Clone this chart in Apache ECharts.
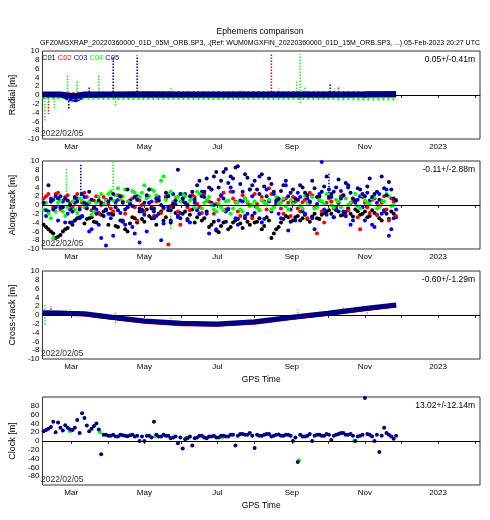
<!DOCTYPE html>
<html>
<head>
<meta charset="utf-8">
<script src="https://cdn.jsdelivr.net/npm/echarts@6/dist/echarts.min.js"></script>
<style>
html, body { margin: 0; padding: 0; background: #fff; }
#chart { width: 490px; height: 520px; }
</style>
</head>
<body>
<div id="chart"></div>
<script>
// satellites and their colours
const satNames = ['C01', 'C02', 'C03', 'C04', 'C05'];
const satColors = ['#000000', '#ff0000', '#0000ff', '#00ff00', '#000080'];

const panelNames = ['Radial [m]', 'Along-track [m]', 'Cross-track [m]', 'Clock [m]'];
const panelStats = ['0.05+/-0.41m', '-0.11+/-2.88m', '-0.60+/-1.29m', '13.02+/-12.14m'];

// sample days (every 4 days) used for along-track and clock
const dates = [
  '2022-02-06','2022-02-10','2022-02-14','2022-02-18','2022-02-22','2022-02-26',
  '2022-03-02','2022-03-06','2022-03-10','2022-03-14','2022-03-18','2022-03-22','2022-03-26','2022-03-30',
  '2022-04-03','2022-04-07','2022-04-11','2022-04-15','2022-04-19','2022-04-23','2022-04-27',
  '2022-05-01','2022-05-05','2022-05-09','2022-05-13','2022-05-17','2022-05-21','2022-05-25','2022-05-29',
  '2022-06-02','2022-06-06','2022-06-10','2022-06-14','2022-06-18','2022-06-22','2022-06-26','2022-06-30',
  '2022-07-04','2022-07-08','2022-07-12','2022-07-16','2022-07-20','2022-07-24','2022-07-28',
  '2022-08-01','2022-08-05','2022-08-09','2022-08-13','2022-08-17','2022-08-21','2022-08-25','2022-08-29',
  '2022-09-02','2022-09-06','2022-09-10','2022-09-14','2022-09-18','2022-09-22','2022-09-26','2022-09-30',
  '2022-10-04','2022-10-08','2022-10-12','2022-10-16','2022-10-20','2022-10-24','2022-10-28',
  '2022-11-01','2022-11-05','2022-11-09','2022-11-13','2022-11-17','2022-11-21','2022-11-25'
];
// second sample set, in between
const dates2 = [
  '2022-02-08','2022-02-12','2022-02-16','2022-02-20','2022-02-24','2022-02-28',
  '2022-03-04','2022-03-08','2022-03-12','2022-03-16','2022-03-20','2022-03-24','2022-03-28',
  '2022-04-01','2022-04-05','2022-04-09','2022-04-13','2022-04-17','2022-04-21','2022-04-25','2022-04-29',
  '2022-05-03','2022-05-07','2022-05-11','2022-05-15','2022-05-19','2022-05-23','2022-05-27','2022-05-31',
  '2022-06-04','2022-06-08','2022-06-12','2022-06-16','2022-06-20','2022-06-24','2022-06-28',
  '2022-07-02','2022-07-06','2022-07-10','2022-07-14','2022-07-18','2022-07-22','2022-07-26','2022-07-30',
  '2022-08-03','2022-08-07','2022-08-11','2022-08-15','2022-08-19','2022-08-23','2022-08-27','2022-08-31',
  '2022-09-04','2022-09-08','2022-09-12','2022-09-16','2022-09-20','2022-09-24','2022-09-28',
  '2022-10-02','2022-10-06','2022-10-10','2022-10-14','2022-10-18','2022-10-22','2022-10-26','2022-10-30',
  '2022-11-03','2022-11-07','2022-11-11','2022-11-15','2022-11-19','2022-11-23','2022-11-27'
];

// along-track [m]
const alongC01 = [-4.5,-5.5,-6.5,-7.2,-6.0,-5.2, -4.5,-3.0,-2.6,-3.2,-2.8,-4.0,-2.2,-1.0, -2.0,-4.8,-3.5,-5.5,-4.2,-3.0,-1.5,
  -3.8,-2.5,-0.8,-2.0,-3.5,-1.2,-0.5,-2.5, -2.0,-3.2,-1.0,-2.8,-3.5,-1.5,-4.5,-5.8, -4.8,-3.8,-5.0,-3.5,-4.2,-3.0,-4.5,
  -4.0,-3.0,-4.8,-3.5,-6.5,-5.0,-3.2,-2.8, -3.5,-2.5,-3.0,-3.2,-2.6,-3.0,-2.2,-1.5, -2.0,-1.2,-2.4,-1.6,-2.0,-1.0,-2.2,
  -1.5,-2.5,-1.8,-3.0,-1.2,-3.2,-2.0];
const alongC01b = [-5.0,-6.0,-7.5,-6.8,-5.5,-4.0, -3.5,-2.8,-4.2,-3.0,-3.8,-1.8,-2.5, -4.5,-2.2,-5.0,-3.8,-6.0,-2.8,-4.0,-3.2,
  -1.0,-3.0,-4.5,-1.5,-2.8,-4.0,-1.8,-3.0, -1.5,-2.2,-4.0,-2.0,-3.0,-5.0,-3.8, -6.2,-4.0,-5.5,-4.0,-3.2,-5.2,-3.8,-2.5,
  -3.8,-5.5,-2.8,-7.5,-5.5,-4.0,-2.5,-3.8, -2.8,-3.5,-2.2,-3.8,-2.0,-3.2,-1.8, -1.2,-2.8,-1.5,-2.2,-0.8,-2.6,-1.4,-2.0,
  -2.8,-1.2,-2.2,-3.5,-2.0,-1.5,-2.8];
const alongC02 = [1.5,2.5,-0.5,2.8,1.0,2.2, -0.5,2.5,0.5,1.8,-1.2,2.0,0.0,1.2, -0.8,0.5,1.5,-2.0,0.8,-0.5,1.0,
  -1.5,0.5,-2.5,1.2,-0.8,-9.0,0.6,-1.5, 1.5,-0.5,2.2,0.3,-1.8,1.0,3.5,0.2, 2.0,-1.0,3.0,0.8,-2.5,1.5,0.0,
  2.5,-1.2,0.8,3.8,-0.5,1.2,-2.0,0.5, 1.8,-0.8,0.6,-3.0,2.2,-6.5,-1.5,0.5, 0.8,-0.5,2.0,-2.5,0.3,1.0,-5.5,
  0.5,-1.8,1.5,-0.3,2.0,-3.5,0.8];
const alongC02b = [2.0,0.8,2.5,-1.0,1.8,0.5, 1.5,-0.5,2.8,0.5,1.0,-2.0,1.8, 0.2,-1.5,2.2,0.8,-0.5,1.5,-3.5,0.0,
  1.8,-0.5,0.8,-1.8,2.0,-0.2,1.0,-4.5, 0.5,-1.2,1.8,-0.5,2.5,0.8,-2.0, 1.2,2.8,-0.8,1.5,-1.5,2.2,0.5,-3.0,
  0.2,1.8,-1.0,2.5,0.5,-0.8,1.5,-2.5, 0.8,-1.5,1.2,2.8,-0.5,1.0,-4.0, 1.5,-0.8,0.5,2.2,-1.2,0.8,-2.8,1.8,
  -0.5,1.2,-2.2,0.5,-1.0,1.5,-2.5];
const alongC03 = [0.5,-1.5,1.2,-3.5,0.8,-2.0, -4.0,1.5,-2.5,0.2,-5.5,-1.0,-7.5,-9.2, -3.0,0.8,-1.8,-4.5,1.0,-6.5,-8.5,
  -2.2,0.5,-3.0,1.8,-4.2,-0.5,2.5,-2.8, 0.8,-3.5,1.5,-1.2,3.0,-2.0,0.5,-5.5, 2.2,-1.5,4.0,-3.0,1.0,-2.5,3.5,
  -1.8,6.5,-3.2,0.8,2.5,-2.0,1.2,-5.8, 0.5,2.8,-1.5,1.5,-3.0,0.2,9.8,-2.2, 1.8,-1.0,3.2,-2.5,-4.5,0.5,2.0,
  -3.5,1.0,-5.0,2.5,-1.5,-7.0,-3.0];
const alongC03b = [-2.5,1.5,-0.5,2.0,-4.0,-1.0, 0.5,-3.0,1.8,-6.0,-0.8,-4.5,0.2, -2.0,-7.0,1.2,-3.5,-0.5,-5.0,2.0,-1.5,
  -6.0,0.8,-2.5,-8.0,1.5,-3.5,0.2,-1.8, 2.5,-4.0,0.5,-2.0,1.8,-6.5,0.0, -3.5,1.5,-1.0,3.0,-4.5,0.8,-2.0,2.0,
  -0.5,-4.0,3.5,-1.5,0.2,-3.0,4.5,-1.0, -3.5,1.8,-2.0,0.5,-5.5,2.5,-1.0, 3.5,-2.8,0.5,-1.5,4.0,-3.5,1.2,-0.5,
  2.8,-4.5,0.5,-2.0,3.5,-5.5,-1.0];
const alongC04 = [-1.0,-2.0,-7.5,0.5,-1.5,-0.5, 0.8,-1.8,1.0,-0.5,-2.2,0.5,2.5,1.0, 3.0,2.2,1.5,3.5,0.5,2.8,1.8,
  4.5,2.0,3.2,1.0,6.5,2.5,0.5,1.8, 2.5,0.2,1.5,3.0,-0.8,1.2,0.0,-1.5, -0.5,0.8,-2.0,0.5,-1.0,1.5,-0.3,
  0.8,-1.2,0.5,1.2,-0.5,0.3,1.5,-1.0, 0.2,1.0,-0.8,0.5,1.8,-0.5,0.8,2.5, 0.0,1.2,-0.5,1.5,0.5,2.5,-0.8,
  1.0,0.2,1.8,-0.5,0.8,2.0,0.0];
const alongC04b = [0.5,-3.0,-1.5,1.0,-2.5,0.0, -1.0,1.5,-0.5,0.8,-1.5,1.8,0.2, 2.5,1.0,3.8,2.0,0.8,3.2,1.5,2.8,
  1.5,3.5,2.2,5.5,1.2,3.0,1.8,0.8, 2.0,1.0,-0.5,2.5,0.5,1.8,-1.0, 0.3,-1.2,1.0,-0.8,0.5,-1.5,0.8,0.0,
  -0.5,1.0,0.2,-1.0,1.8,0.5,-0.3,1.0, 1.5,-0.2,2.0,0.8,-0.8,1.2,0.3, 1.8,-0.5,0.8,2.0,0.0,1.5,-0.3,2.2,
  0.5,1.5,-0.8,1.0,2.5,-0.2,1.2];
const alongC05 = [0.5,4.5,-1.0,1.5,-0.5,1.0, -1.5,0.8,2.5,-0.8,1.2,-2.0,0.5,-1.2, 1.5,-0.5,2.0,-1.0,0.2,1.8,-0.8,
  0.5,3.5,-1.5,1.0,-0.5,2.0,0.3,8.0, 1.5,0.0,3.0,4.5,2.0,6.0,3.5,7.5, 5.5,8.2,6.5,8.5,4.8,7.0,3.5,
  5.5,2.5,4.2,6.0,3.0,1.5,4.5,2.0, 3.5,1.2,4.0,2.2,5.5,1.8,3.0,6.5, 2.5,4.0,1.5,5.0,2.8,1.0,3.5,
  2.0,6.0,2.5,1.2,3.8,5.2,1.5];
const alongC05b = [-1.2,0.8,2.0,-0.5,1.5,0.0, 1.8,-1.0,0.5,3.0,-0.5,1.0,-1.5, 0.8,2.5,-1.2,0.5,3.5,-0.2,1.2,-1.0,
  2.2,-0.8,1.5,0.0,2.8,-1.2,1.0,2.5, 0.5,2.0,1.2,5.5,3.0,4.0,6.5, 4.0,7.5,5.0,6.0,8.8,3.0,6.2,4.5,
  3.5,7.0,2.0,4.8,1.0,3.2,5.5,2.8, 1.5,4.5,2.8,0.8,3.8,2.0,4.2, 1.8,3.0,5.8,2.2,4.5,1.5,3.8,2.5,
  4.2,1.8,3.0,6.5,2.2,3.5,1.0];

// clock [m]
const clockC05 = [22,28,44,42,24,30, 25,48,63,35,28,40,-30,14, 12,10,14,12,13,10,0,
  0,12,44,10,14,12,8,-5, -17,6,-10,8,12,6,10,8, 12,10,14,-10,16,14,18,
  -16,12,14,16,12,15,12,14, 0,-48,10,12,0,14,12,16, 2,14,18,14,16,0,12,
  98,14,0,-25,30,14,5];
const clockC05b = [25,32,20,30,36,26, 30,18,52,22,34,26,14, 12,14,10,13,11,14,12,10,
  12,8,14,10,12,6,10,8, 4,10,6,12,8,10,12, 8,12,10,14,12,16,14,12,
  14,12,16,10,14,12,14,12, 8,14,10,16,12,14,12, 14,12,16,18,14,12,10,14,
  16,10,14,12,18,10,12];
const clockC04Dates = ['2022-02-28','2022-03-25','2022-05-10','2022-06-05','2022-07-05','2022-09-07','2022-10-23'];
const clockC04 = [22,20,10,8,8,-44,0];

// dense bands (radial, cross-track) sampled at these days
const bandDates = ['2022-02-05','2022-02-20','2022-02-26','2022-03-05','2022-03-12','2022-04-01','2022-05-01',
  '2022-06-01','2022-07-01','2022-08-01','2022-09-01','2022-10-01','2022-11-01','2022-11-27'];
const radialBandC01 = [0.0,0.0,-0.3,-0.5,-0.2,-0.1,-0.1,-0.1,-0.1,-0.1,-0.1,-0.1,-0.1,-0.1];
const radialBandC02 = [0.4,0.4,0.4,0.4,0.5,0.5,0.6,0.6,0.6,0.6,0.6,0.6,0.6,0.6];
const radialBandC03 = [0.0,0.0,-0.8,-1.2,-0.2,-0.1,-0.1,-0.1,-0.1,-0.1,-0.1,-0.1,-0.1,-0.1];
const radialBandC04 = [-0.6,-0.6,-0.7,-0.8,-0.7,-0.8,-0.8,-0.8,-0.8,-0.8,-0.8,-0.8,-0.9,-0.9];
const radialBandC05 = [0.1,0.1,-0.1,-0.2,0.1,0.1,0.15,0.1,0.1,0.1,0.1,0.1,0.15,0.2];

const crossBandC01 = [0.5,0.45,0.4,0.35,0.3,-0.4,-1.35,-1.9,-2.05,-1.55,-0.5,0.4,1.5,2.3];
const crossBandC02 = [0.2,0.15,0.1,0.05,0.0,-0.7,-1.65,-2.2,-2.35,-1.85,-0.8,0.1,1.2,2.0];
const crossBandC03 = [0.3,0.25,0.2,0.15,0.1,-0.6,-1.55,-2.1,-2.25,-1.75,-0.7,0.2,1.3,2.1];
const crossBandC04 = [0.7,0.6,0.55,0.5,0.45,-0.25,-1.2,-1.75,-1.9,-1.4,-0.35,0.55,1.65,2.45];
const crossBandC05 = [0.5,0.45,0.4,0.35,0.3,-0.4,-1.35,-1.9,-2.05,-1.55,-0.5,0.4,1.5,2.3];

// short bursts: [day, from, to, satellite index]
const radialSpikes = [
  ['2022-02-07',0,-5.8,3], ['2022-02-10',0,-4.3,1], ['2022-02-15',0,-3.0,3], ['2022-02-26',0,4.8,3],
  ['2022-02-27',0,-3.2,0], ['2022-03-06',0,3.2,3], ['2022-03-16',0,2.0,2], ['2022-03-24',0,4.8,3],
  ['2022-04-05',0,8.7,4], ['2022-04-07',0,-2.7,3], ['2022-04-25',0,9.0,4], ['2022-05-23',0,1.6,3],
  ['2022-07-20',0,1.2,3], ['2022-08-15',0,9.3,1], ['2022-08-21',0,1.5,3], ['2022-09-05',0,3.0,3],
  ['2022-09-08',-1.8,9.3,3], ['2022-09-12',0,2.0,3], ['2022-10-03',0,2.5,4], ['2022-10-07',0,1.5,3],
  ['2022-10-10',0,2.0,1]
];
const alongSpikes = [
  ['2022-02-25',3.0,8.5,3], ['2022-03-09',2.0,9.5,4], ['2022-04-05',3.4,9.8,3],
  ['2022-05-23',-1.0,-5.5,3], ['2022-10-02',2.0,7.5,4]
];
const crossSpikes = [
  ['2022-02-07',-2.2,2.2,3], ['2022-02-12',0.5,2.0,1], ['2022-02-28',0.4,1.2,0], ['2022-04-07',0.5,-2.0,3],
  ['2022-05-23',-1.6,-0.6,3], ['2022-09-06',-0.3,1.3,3], ['2022-10-14',0.7,1.7,3], ['2022-11-03',1.3,-0.1,3]
];

const FONT = 'Liberation Sans, Arial, sans-serif';
const DAY = 86400000;
const monthNames = ['Jan','Feb','Mar','Apr','May','Jun','Jul','Aug','Sep','Oct','Nov','Dec'];
const gridTops = [51, 161, 271, 397];

function t(d) { return Date.parse(d + 'T00:00:00Z'); }

const grids = [], xAxes = [], yAxes = [], series = [];

gridTops.forEach(function (top, i) {
  grids.push({ left: 40, top: top, width: 440, height: 88, show: true, borderColor: '#333', borderWidth: 1 });
  xAxes.push({
    type: 'time', gridIndex: i,
    min: t('2022-02-05'), max: t('2023-02-05'),
    minInterval: 28 * DAY, maxInterval: 31 * DAY,
    axisLine: { show: true, lineStyle: { color: '#333' } },
    axisTick: { show: true, length: 3, lineStyle: { color: '#333' } },
    splitLine: { show: false },
    axisLabel: {
      fontSize: 8, color: '#000', fontFamily: FONT, margin: 4, hideOverlap: false,
      showMinLabel: false, showMaxLabel: false,
      formatter: function (v) {
        const d = new Date(v);
        if (d.getUTCDate() !== 1) return '';
        const m = d.getUTCMonth();
        if (m === 0) return String(d.getUTCFullYear());
        return m % 2 === 0 ? monthNames[m] : '';
      }
    },
    name: i >= 2 ? 'GPS Time' : '', nameLocation: 'middle', nameGap: 16,
    nameTextStyle: { fontSize: 8.5, color: '#000', fontFamily: FONT }
  });
  const clock = i === 3;
  yAxes.push({
    type: 'value', gridIndex: i,
    min: clock ? -100 : -10, max: clock ? 100 : 10, interval: clock ? 20 : 2,
    axisLine: { show: false }, axisTick: { show: false }, splitLine: { show: false },
    axisLabel: { fontSize: 8, color: '#000', fontFamily: FONT, margin: 3,
      showMinLabel: !clock, showMaxLabel: !clock },
    name: panelNames[i], nameLocation: 'middle', nameGap: 22,
    nameTextStyle: { fontSize: 9, color: '#000', fontFamily: FONT }
  });
});

const zeroLine = {
  silent: true, symbol: 'none', label: { show: false },
  lineStyle: { color: '#000', width: 1, type: 'solid' },
  data: [{ yAxis: 0 }]
};

function bandSeries(g, vals, sat, width, dash) {
  return {
    type: 'line', xAxisIndex: g, yAxisIndex: g, showSymbol: false, silent: true,
    data: bandDates.map(function (d, k) { return [t(d), vals[k]]; }),
    lineStyle: { color: satColors[sat], width: width, type: dash ? [2, 3] : 'solid' }
  };
}

function pairs(ds, vals) {
  return ds.map(function (d, k) { return [t(d), vals[k]]; });
}

function scatterSeries(g, data, sat, size) {
  return {
    type: 'scatter', xAxisIndex: g, yAxisIndex: g, symbol: 'circle', symbolSize: size, silent: true,
    data: data,
    itemStyle: { color: satColors[sat], opacity: 1 }
  };
}

function spikeSeries(g, spikes) {
  return {
    type: 'custom', xAxisIndex: g, yAxisIndex: g, silent: true, clip: true,
    data: spikes.map(function (s) { return [t(s[0]), s[1], s[2], s[3]]; }),
    encode: { x: 0, y: [1, 2] },
    renderItem: function (params, api) {
      const p0 = api.coord([api.value(0), api.value(1)]);
      const p1 = api.coord([api.value(0), api.value(2)]);
      return {
        type: 'line',
        shape: { x1: p0[0], y1: p0[1], x2: p1[0], y2: p1[1] },
        style: { stroke: satColors[api.value(3)], lineWidth: 1.5, lineDash: [1.5, 1.5] }
      };
    }
  };
}

// radial
const r0 = bandSeries(0, radialBandC01, 0, 3, false);
r0.markLine = zeroLine;
series.push(r0, bandSeries(0, radialBandC02, 1, 2, true), bandSeries(0, radialBandC03, 2, 4, false),
  bandSeries(0, radialBandC04, 3, 3, true), spikeSeries(0, radialSpikes), bandSeries(0, radialBandC05, 4, 6, false));

// along-track
const alongA = [alongC01, alongC02, alongC03, alongC04, alongC05];
const alongB = [alongC01b, alongC02b, alongC03b, alongC04b, alongC05b];
alongA.forEach(function (vals, s) {
  const ser = scatterSeries(1, pairs(dates, vals).concat(pairs(dates2, alongB[s])), s, 4);
  if (s === 0) ser.markLine = zeroLine;
  series.push(ser);
});
series.push(spikeSeries(1, alongSpikes));

// cross-track
const c0 = bandSeries(2, crossBandC01, 0, 3, false);
c0.markLine = zeroLine;
series.push(c0, bandSeries(2, crossBandC02, 1, 3, false), bandSeries(2, crossBandC03, 2, 3, false),
  bandSeries(2, crossBandC04, 3, 2, true), spikeSeries(2, crossSpikes), bandSeries(2, crossBandC05, 4, 5, false));

// clock
const k0 = scatterSeries(3, pairs(clockC04Dates, clockC04), 3, 4);
k0.markLine = zeroLine;
series.push(k0, scatterSeries(3, pairs(dates, clockC05).concat(pairs(dates2, clockC05b)), 4, 4));

const graphics = [
  { type: 'text', x: 260, y: 32, style: { text: 'Ephemeris comparison', fontSize: 8.5, fontFamily: FONT, fill: '#000', align: 'center', verticalAlign: 'middle' } },
  { type: 'text', x: 40, y: 43, style: { text: 'GFZ0MGXRAP_20220360000_01D_05M_ORB.SP3, ...', fontSize: 7, fontFamily: FONT, fill: '#000', align: 'left', verticalAlign: 'middle' } },
  { type: 'text', x: 480, y: 43, style: { text: '(Ref: WUM0MGXFIN_20220360000_01D_15M_ORB.SP3, ...) 05-Feb-2023 20:27 UTC', fontSize: 7, fontFamily: FONT, fill: '#000', align: 'right', verticalAlign: 'middle' } },
  { type: 'text', x: 42, y: 58, style: {
      text: '{a|C01} {b|C02} {c|C03} {d|C04} {e|C05}', fontSize: 7.5, fontFamily: FONT, verticalAlign: 'middle',
      rich: { a: { fill: satColors[0], fontSize: 7.5 }, b: { fill: satColors[1], fontSize: 7.5 }, c: { fill: satColors[2], fontSize: 7.5 },
              d: { fill: satColors[3], fontSize: 7.5 }, e: { fill: satColors[4], fontSize: 7.5 } } } }
];
gridTops.forEach(function (top, i) {
  graphics.push({ type: 'text', x: 475, y: top + 9, z: 10, style: { text: panelStats[i], fontSize: 8.5, fontFamily: FONT, fill: '#000', align: 'right', verticalAlign: 'middle' } });
  graphics.push({ type: 'text', x: 41, y: top + 83, z: 10, style: { text: '2022/02/05', fontSize: 8.5, fontFamily: FONT, fill: '#333', align: 'left', verticalAlign: 'middle' } });
});

const chart = echarts.init(document.getElementById('chart'), null, { renderer: 'canvas' });
chart.setOption({
  animation: false,
  useUTC: true,
  backgroundColor: '#fff',
  textStyle: { fontFamily: FONT },
  grid: grids,
  xAxis: xAxes,
  yAxis: yAxes,
  series: series,
  graphic: graphics
});
</script>
</body>
</html>
